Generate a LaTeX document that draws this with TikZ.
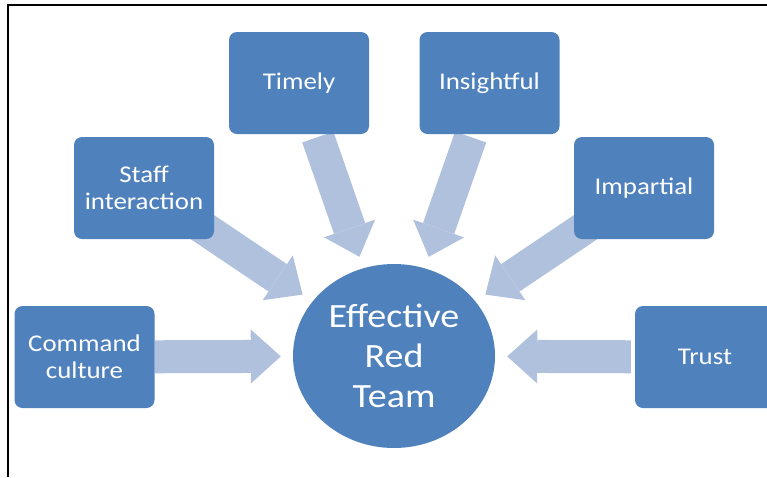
\documentclass[tikz,border=0pt]{standalone}
\usepackage{fontspec}
\setmainfont{Carlito}[FakeStretch=1.12]
\usetikzlibrary{arrows.meta,shapes.geometric,backgrounds}
\definecolor{boxblue}{HTML}{4F81BD}
\definecolor{arrowblue}{HTML}{B0C1DD}
\begin{document}
\begin{tikzpicture}[x=1pt,y=-1pt,
  box/.style={fill=boxblue,rounded corners=8pt,minimum width=140pt,minimum height=102pt,inner sep=0pt,text=white,align=center,font=\fontsize{24}{27}\selectfont},
  bigarrow/.style={arrowblue,line width=33pt,shorten >=12pt,-{Triangle[length=30pt,width=54pt,line width=0pt]}}]
\useasboundingbox (0,0) rectangle (767,477);
\draw[line width=2pt] (8,477) -- (8,5) -- (767,5);
\node[box] (timely) at (299,83) {Timely};
\node[box] (insight) at (489.5,83) {Insightful};
\node[box] (staff) at (144,188) {Staff\\interaction};
\node[box] (impart) at (644,188) {Impartial};
\node[box] (cmd) at (84.5,357) {Command\\culture};
\node[box] (trust) at (705,357) {Trust};
\node[ellipse,fill=boxblue,minimum width=202pt,minimum height=184pt,inner sep=0pt,text=white,align=center,font=\fontsize{34}{40}\selectfont] (red) at (394,356) {Effective\\Red\\Team};
\begin{scope}[on background layer]
\foreach \b/\s in {timely/3,insight/3,staff/-20,impart/-20,cmd/0,trust/4}{\draw[bigarrow,shorten <=\s pt] (\b) -- (red);}
\end{scope}
\end{tikzpicture}
\end{document}
